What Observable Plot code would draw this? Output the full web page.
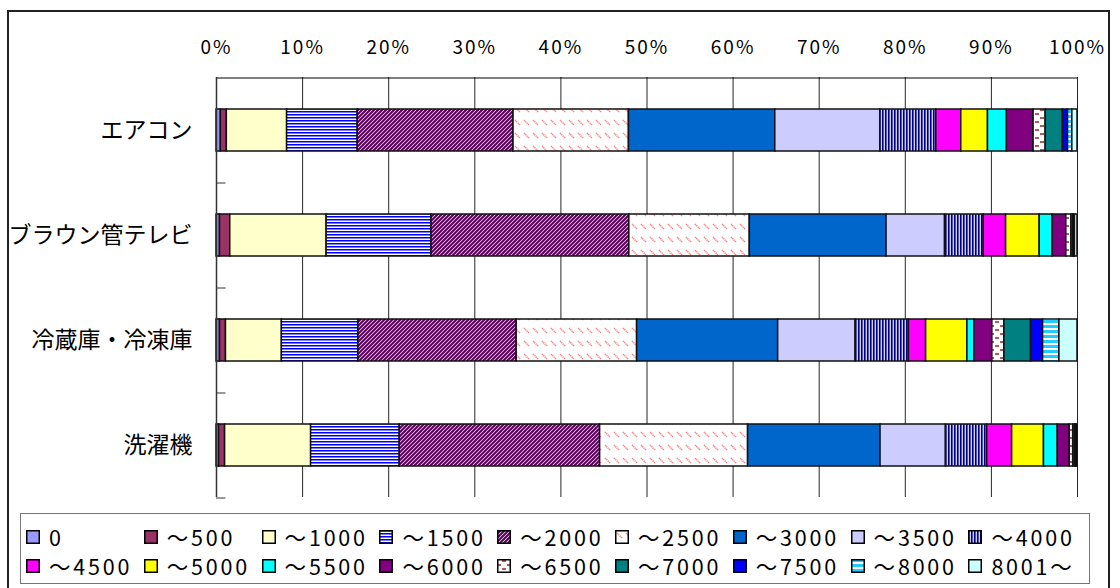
<!DOCTYPE html>
<html><head><meta charset="utf-8">
<script src="https://cdn.jsdelivr.net/npm/d3@7"></script>
<script src="https://cdn.jsdelivr.net/npm/@observablehq/plot@0.6"></script>
<style>
body{margin:0;background:#fff;font-family:"Noto Sans CJK JP",sans-serif;}
#frame{position:absolute;left:7px;top:10px;width:1103px;height:600px;border:2px solid #222;box-sizing:border-box;}
#chart{position:absolute;left:0;top:0;}
#legend{position:absolute;left:20px;top:513px;width:1070px;height:71px;border:1px solid #777;box-sizing:border-box;background:#fff;}
.item{position:absolute;display:flex;align-items:center;font-size:21.5px;letter-spacing:2.8px;line-height:24px;height:24px;color:#000;white-space:nowrap;}
.item svg{margin-right:9px;flex:none;}
</style></head><body>
<div id="frame"></div><div id="chart"></div><div id="legend"></div>
<script>
// Categories (top to bottom)
const categories = ["エアコン", "ブラウン管テレビ", "冷蔵庫・冷凍庫", "洗濯機"];
// Series (bins) in stacking order
const bins = ["0", "～500", "～1000", "～1500", "～2000", "～2500", "～3000", "～3500", "～4000",
  "～4500", "～5000", "～5500", "～6000", "～6500", "～7000", "～7500", "～8000", "8001～"];
// Shares (%) per category, in bin order
const aircon = [0.5, 0.7, 7.0, 8.2, 18.1, 13.4, 17.0, 12.2, 6.5, 2.9, 3.1, 2.2, 3.1, 1.4, 2.0, 0.6, 0.5, 0.6];
const crtTv  = [0.4, 1.2, 11.2, 12.2, 23.0, 14.0, 15.9, 6.8, 4.5, 2.6, 3.9, 1.5, 1.6, 0.6, 0.2, 0.1, 0.1, 0.3];
const fridge = [0.4, 0.7, 6.5, 8.9, 18.4, 14.0, 16.4, 9.0, 6.2, 2.0, 4.8, 0.8, 2.1, 1.4, 3.1, 1.4, 1.9, 2.1];
const washer = [0.3, 0.7, 10.0, 10.3, 23.3, 17.2, 15.4, 7.6, 4.8, 2.9, 3.7, 1.6, 1.4, 0.4, 0.2, 0.1, 0.1, 0.1];
const series = [aircon, crtTv, fridge, washer];
// Tick values of the top axis
const xTicks = [0, 0.1, 0.2, 0.3, 0.4, 0.5, 0.6, 0.7, 0.8, 0.9, 1.0];

const fills = ["#9999ff", "#993366", "#ffffcc", "url(#p1500)", "url(#p2000)", "url(#p2500)", "#0066cc", "#ccccff", "url(#p4000)",
  "#ff00ff", "#ffff00", "#00ffff", "#800080", "url(#p6500)", "#008080", "#0000ff", "url(#p8000)", "#ccffff"];

const rows = categories.flatMap((c, i) => series[i].map((v, j) => ({cat: c, bin: bins[j], value: v})));

const chart = Plot.plot({
  width: 1120, height: 505,
  marginLeft: 216, marginRight: 43, marginTop: 77, marginBottom: 8,
  style: {fontFamily: "'Noto Sans CJK JP', sans-serif", background: "transparent", color: "#000"},
  x: {domain: [0, 1], axis: null, label: null},
  y: {domain: categories, paddingInner: 0.6, paddingOuter: 0.3, axis: null, label: null},
  color: {type: "ordinal", domain: bins, range: fills},
  marks: [
    Plot.gridX(xTicks, {stroke: "#000", strokeOpacity: 0.85}),
    Plot.ruleY([categories[0]], {x1: 0, x2: 1, dy: -52.5, stroke: "#000"}),
    Plot.ruleY(categories, {x1: 0, x2: 0.011, dy: 52.5, stroke: "#777", strokeWidth: 1.5}),
    Plot.barX(rows, Plot.stackX({x: "value", y: "cat", fill: "bin", z: "bin", offset: "normalize", stroke: "#111", strokeWidth: 1.5})),
    Plot.ruleX([0], {stroke: "#333", strokeWidth: 1.5}),
    Plot.axisX({anchor: "top", ticks: xTicks, tickFormat: d3.format(".0%"), tickSize: 0, tickPadding: 24, fontSize: 19, label: null}),
    Plot.axisY({tickSize: 0, tickPadding: 24, fontSize: 23, label: null})
  ]
});

const defs = `
<pattern id="p1500" patternUnits="userSpaceOnUse" width="4" height="3">
  <rect width="4" height="3" fill="#ffffff"/><rect y="0" width="4" height="1" fill="#0000ff"/><rect y="1" width="4" height="1" fill="#7777ff"/>
</pattern>
<pattern id="p2000" patternUnits="userSpaceOnUse" width="4" height="4">
  <rect width="4" height="4" fill="#f4e8f4"/>
  <path d="M-1,1 L1,-1 M0,4 L4,0 M3,5 L5,3" stroke="#5c005c" stroke-width="2.1"/>
</pattern>
<pattern id="p2500" patternUnits="userSpaceOnUse" width="9" height="13">
  <rect width="9" height="13" fill="#ffffff"/>
  <path d="M2,3 L7,8" stroke="#ff8080" stroke-width="1.5" stroke-dasharray="1.3,0.6"/>
</pattern>
<pattern id="p4000" patternUnits="userSpaceOnUse" width="3" height="4">
  <rect width="3" height="4" fill="#ccccff"/><rect x="0" width="1" height="4" fill="#000080"/><rect x="1" width="1" height="4" fill="#5555aa"/>
</pattern>
<pattern id="p6500" patternUnits="userSpaceOnUse" width="10" height="8">
  <rect width="10" height="8" fill="#ffffff"/>
  <path d="M5,2 H9 M0,6 H4" stroke="#a02020" stroke-width="1.6"/>
</pattern>
<pattern id="p8000" patternUnits="userSpaceOnUse" width="4" height="5">
  <rect width="4" height="5" fill="#ffffff"/><rect y="0" width="4" height="3" fill="#22ccff"/>
</pattern>`;
const d = document.createElementNS("http://www.w3.org/2000/svg", "defs");
d.innerHTML = defs;
chart.insertBefore(d, chart.firstChild);
d3.select(chart).selectAll('g[aria-label="x-axis tick label"] text').attr("letter-spacing", "2px");
document.getElementById("chart").appendChild(chart);

// Legend (9 columns x 2 rows)
const legend = document.getElementById("legend");
bins.forEach((b, i) => {
  const col = i % 9, row = Math.floor(i / 9);
  const el = document.createElement("div");
  el.className = "item";
  el.style.left = (5 + col * 117.8) + "px";
  el.style.top = (11 + row * 29) + "px";
  el.innerHTML = `<svg width="14" height="14"><rect x="0.75" y="0.75" width="12.5" height="12.5" fill="${fills[i]}" stroke="#000" stroke-width="1.5"/></svg><span>${b}</span>`;
  legend.appendChild(el);
});
</script>
</body></html>
